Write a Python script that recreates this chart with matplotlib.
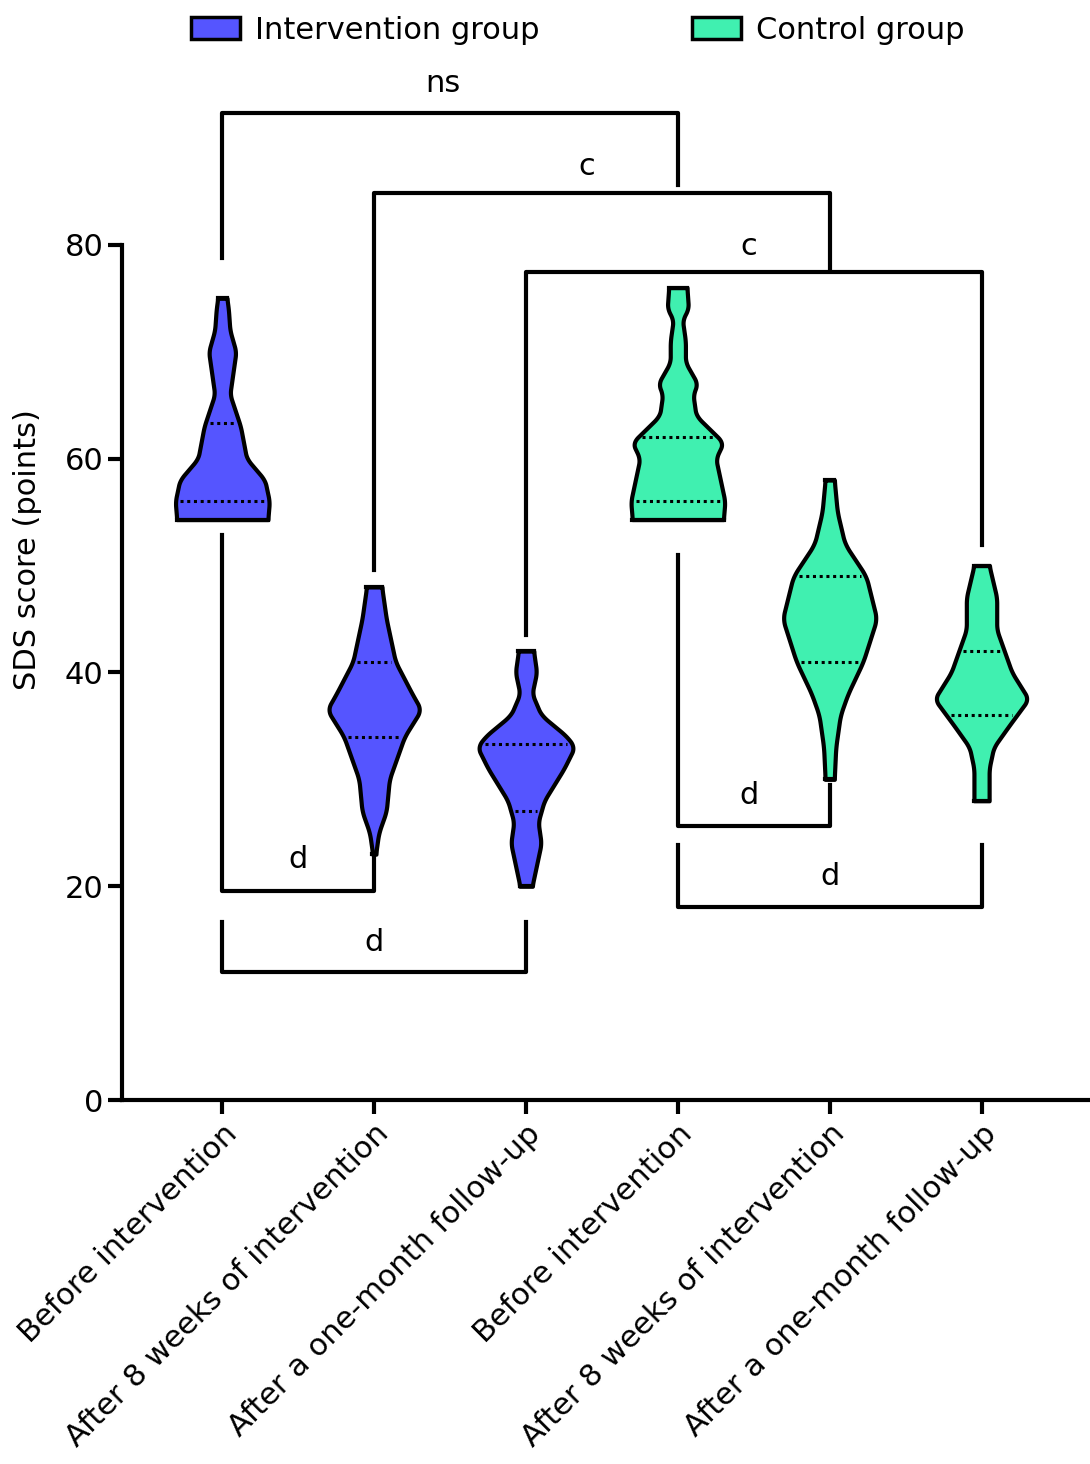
import numpy as np
import matplotlib.pyplot as plt
from matplotlib.patches import Patch

categories = ["Before intervention", "After 8 weeks of intervention", "After a one-month follow-up"] * 2
blue = "#5555FF"
green = "#40F0B0"
colors = [blue] * 3 + [green] * 3

# violin outline: (score, half-width in category units)
prof_y = [
    [54.3, 56, 58, 60, 63, 66, 68, 70, 72, 74, 75],
    [23, 25, 27, 30, 34, 36.5, 38, 41, 45, 48],
    [20, 22, 24, 26, 28, 31, 33, 34, 36, 38, 40, 42],
    [54.3, 56, 58, 60, 61.5, 64, 66, 67, 69, 71, 73, 74, 76],
    [30, 33, 36, 38, 41, 45, 49, 52, 55, 58],
    [28, 31, 33, 35, 37.5, 40, 42, 44, 47, 50],
]
prof_w = [
    [0.30, 0.31, 0.28, 0.16, 0.12, 0.05, 0.07, 0.09, 0.05, 0.04, 0.03],
    [0.01, 0.03, 0.08, 0.10, 0.20, 0.31, 0.25, 0.14, 0.08, 0.05],
    [0.04, 0.07, 0.10, 0.08, 0.12, 0.25, 0.32, 0.27, 0.10, 0.04, 0.07, 0.05],
    [0.30, 0.31, 0.28, 0.25, 0.30, 0.12, 0.10, 0.13, 0.05, 0.05, 0.03, 0.07, 0.06],
    [0.03, 0.04, 0.07, 0.12, 0.22, 0.31, 0.24, 0.10, 0.05, 0.03],
    [0.05, 0.05, 0.08, 0.18, 0.31, 0.20, 0.15, 0.10, 0.10, 0.05],
]
quartiles = [(56, 63.3), (34, 41), (27, 33.3), (56, 62), (41, 49), (36, 42)]

# brackets: (x1, x2, level, leg1 end, leg2 end, label, label x, label y)
brackets = [
    (0, 3, 92.3, 78.8, 85.6, "ns", 1.45, 95.1),
    (1, 4, 84.8, 49.6, 77.8, "c", 2.4, 87.3),
    (2, 5, 77.5, 43.5, 51.9, "c", 3.47, 79.8),
    (0, 1, 19.6, 52.9, 22.9, "d", 0.5, 22.5),
    (0, 2, 12.0, 16.7, 16.7, "d", 1.0, 14.7),
    (3, 4, 25.6, 51.0, 29.5, "d", 3.47, 28.5),
    (3, 5, 18.1, 23.9, 23.9, "d", 4.0, 20.9),
]

plt.rcParams['font.family'] = ['DejaVu Sans']
lw = 3
fig = plt.figure(figsize=(10.9, 14.64), dpi=100)
ax = fig.add_axes([0.112, 0.2486, 0.886, 0.7514])

kernel = np.ones(15) / 15
for i, (py, pw) in enumerate(zip(prof_y, prof_w)):
    yy = np.linspace(py[0], py[-1], 300)
    ww = np.interp(yy, py, pw)
    ww = np.convolve(np.pad(ww, 7, mode="edge"), kernel, mode="valid")
    ax.fill_betweenx(yy, i - ww, i + ww, facecolor=colors[i], edgecolor="black", lw=lw, zorder=3)
    ax.plot([i - ww[0], i + ww[0]], [yy[0], yy[0]], color="black", lw=lw, zorder=4)
    ax.plot([i - ww[-1], i + ww[-1]], [yy[-1], yy[-1]], color="black", lw=lw, zorder=4)
    for q in quartiles[i]:
        wq = np.interp(q, yy, ww)
        ax.plot([i - wq + 0.03, i + wq - 0.03], [q, q], color="black", lw=2.2, ls=(0, (1, 1.2)), zorder=4)

for x1, x2, lev, e1, e2, lab, tx, ty in brackets:
    ax.plot([x1, x1, x2, x2], [e1, lev, lev, e2], color="black", lw=lw, clip_on=False, zorder=2)
    ax.text(tx, ty, lab, ha="center", va="center", fontsize=22)

ax.set_xlim(-0.66, 5.7)
ax.set_ylim(0, 102.9)
ax.spines['top'].set_visible(False)
ax.spines['right'].set_visible(False)
ax.spines['left'].set_bounds(0, 80)
ax.spines['left'].set_linewidth(3)
ax.spines['bottom'].set_linewidth(3)
ax.set_yticks([0, 20, 40, 60, 80])
ax.set_xticks(range(6))
ax.set_xticklabels(categories, rotation=45, ha="right", rotation_mode="anchor", fontsize=22)
ax.tick_params(axis='both', length=10, width=3, labelsize=22)
ax.set_ylabel("SDS score (points)", fontsize=22, labelpad=16)

handles = [Patch(facecolor=blue, edgecolor="black", lw=2.5), Patch(facecolor=green, edgecolor="black", lw=2.5)]
fig.legend(handles, ["Intervention group", "Control group"], loc="upper center",
           bbox_to_anchor=(0.53, 1.008), ncol=2, frameon=False, fontsize=22,
           columnspacing=5, handlelength=1.6, handletextpad=0.5)

plt.savefig("out.png", dpi=100)
